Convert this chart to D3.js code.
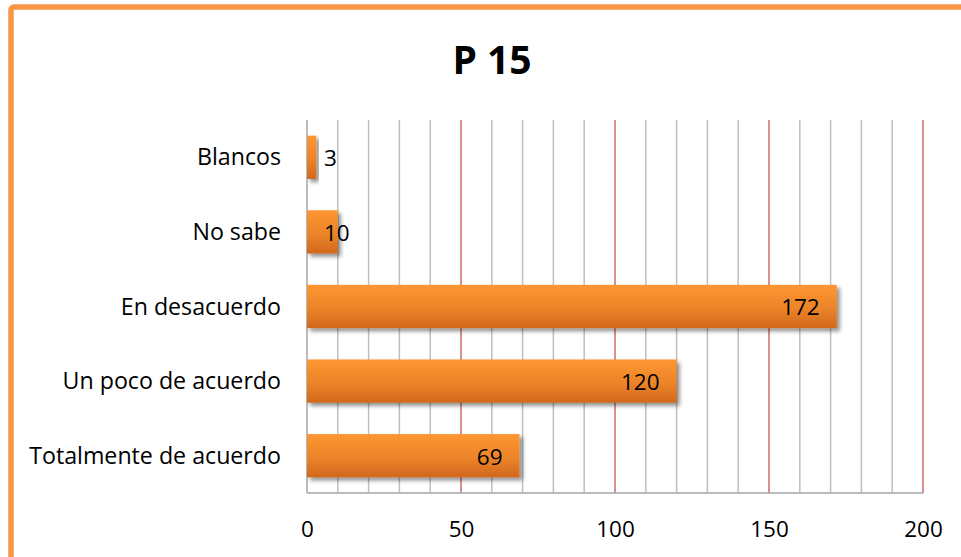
<!DOCTYPE html>
<html>
<head>
<meta charset="utf-8">
<script src="https://cdn.jsdelivr.net/npm/d3@7"></script>
<style>
  html, body { margin: 0; padding: 0; background: #fff; }
  svg { display: block; }
  text { font-family: "Open Sans", "DejaVu Sans", sans-serif; fill: #000; }
</style>
</head>
<body>
<svg id="chart" width="961" height="557"></svg>
<script>
// Survey responses to question P 15 (bars listed top to bottom)
const categories = ["Blancos", "No sabe", "En desacuerdo", "Un poco de acuerdo", "Totalmente de acuerdo"];
const counts = [3, 10, 172, 120, 69];
const tickValues = [0, 50, 100, 150, 200];
const gridValues = d3.range(0, 201, 10);
const chartTitle = "P 15";

const svg = d3.select("#chart");
const W = 961, H = 557;
const plot = { left: 307, right: 923, top: 120, bottom: 493 };

// Outer frame
svg.append("rect")
  .attr("x", 11).attr("y", 7)
  .attr("width", W + 20).attr("height", H + 20)
  .attr("rx", 3)
  .attr("fill", "#fff")
  .attr("stroke", "#f79646")
  .attr("stroke-width", 5.5);

const defs = svg.append("defs");
const grad = defs.append("linearGradient")
  .attr("id", "barFill").attr("x1", 0).attr("y1", 0).attr("x2", 0).attr("y2", 1);
grad.append("stop").attr("offset", "0%").attr("stop-color", "#fe9633");
grad.append("stop").attr("offset", "55%").attr("stop-color", "#ec8429");
grad.append("stop").attr("offset", "100%").attr("stop-color", "#d1671d");

const shadow = defs.append("filter").attr("id", "barShadow")
  .attr("x", "-10%").attr("y", "-30%").attr("width", "130%").attr("height", "170%");
shadow.append("feGaussianBlur").attr("in", "SourceAlpha").attr("stdDeviation", 2.2).attr("result", "b");
shadow.append("feOffset").attr("in", "b").attr("dx", 2.5).attr("dy", 3).attr("result", "o");
shadow.append("feComponentTransfer").attr("in", "o").attr("result", "s")
  .append("feFuncA").attr("type", "linear").attr("slope", 0.45);
const merge = shadow.append("feMerge");
merge.append("feMergeNode").attr("in", "s");
merge.append("feMergeNode").attr("in", "SourceGraphic");

const x = d3.scaleLinear().domain([0, 200]).range([plot.left, plot.right]);
const y = d3.scaleBand().domain(categories).range([plot.top, plot.bottom])
  .paddingInner(0.42).paddingOuter(0.21);

// Title
svg.append("text")
  .attr("x", 492).attr("y", 58)
  .attr("text-anchor", "middle").attr("dominant-baseline", "central")
  .style("font-size", "39px").style("font-weight", "bold")
  .text(chartTitle);

// Vertical gridlines: minor every 10, major every 50
svg.append("g").selectAll("line")
  .data(gridValues.filter(v => v > 0))
  .join("line")
  .attr("x1", d => x(d)).attr("x2", d => x(d))
  .attr("y1", plot.top).attr("y2", plot.bottom)
  .attr("stroke", d => d % 50 === 0 ? "#c0504d" : "#bfbfbf")
  .attr("stroke-opacity", d => d % 50 === 0 ? 0.85 : 1)
  .attr("stroke-width", 1.5);

// Axes lines
svg.append("line")
  .attr("x1", plot.left).attr("x2", plot.right)
  .attr("y1", plot.bottom).attr("y2", plot.bottom)
  .attr("stroke", "#a6a6a6").attr("stroke-width", 1.5);
svg.append("line")
  .attr("x1", plot.left).attr("x2", plot.left)
  .attr("y1", plot.top).attr("y2", plot.bottom)
  .attr("stroke", "#a6a6a6").attr("stroke-width", 1.5);

// X axis tick labels
const xAxis = d3.axisBottom(x).tickValues(tickValues).tickSize(0).tickPadding(0);
const gx = svg.append("g").attr("transform", `translate(0,${plot.bottom})`).call(xAxis);
gx.select(".domain").remove();
gx.selectAll("text")
  .attr("y", 36).attr("dy", "0.35em")
  .style("font-size", "22.5px")
  .style("font-family", "\"Open Sans\", sans-serif")
  .attr("fill", "#000");

// Category labels
const yAxis = d3.axisLeft(y).tickSize(0).tickPadding(0);
const gy = svg.append("g").attr("transform", `translate(${plot.left},0)`).call(yAxis);
gy.select(".domain").remove();
gy.selectAll("text")
  .attr("x", -26).attr("dy", "0.35em")
  .style("font-size", "23.2px")
  .style("font-family", "\"Open Sans\", sans-serif")
  .attr("fill", "#000");

// Bars
const data = categories.map((c, i) => ({ c, v: counts[i] }));
svg.append("g").selectAll("rect")
  .data(data)
  .join("rect")
  .attr("x", x(0))
  .attr("y", d => y(d.c))
  .attr("width", d => x(d.v) - x(0))
  .attr("height", y.bandwidth())
  .attr("fill", "url(#barFill)")
  .attr("filter", "url(#barShadow)");

// Value labels at the inside end of each bar, kept clear of the axis
const labels = svg.append("g").selectAll("text")
  .data(data)
  .join("text")
  .attr("y", d => y(d.c) + y.bandwidth() / 2 + 1)
  .attr("dy", "0.35em")
  .style("font-size", "22.5px")
  .text(d => d.v);
labels.each(function(d) {
  const w = this.getComputedTextLength();
  const pad = 17;
  const left = Math.max(x(d.v) - pad - w, x(0) + pad);
  d3.select(this).attr("x", left);
});
</script>
</body>
</html>
